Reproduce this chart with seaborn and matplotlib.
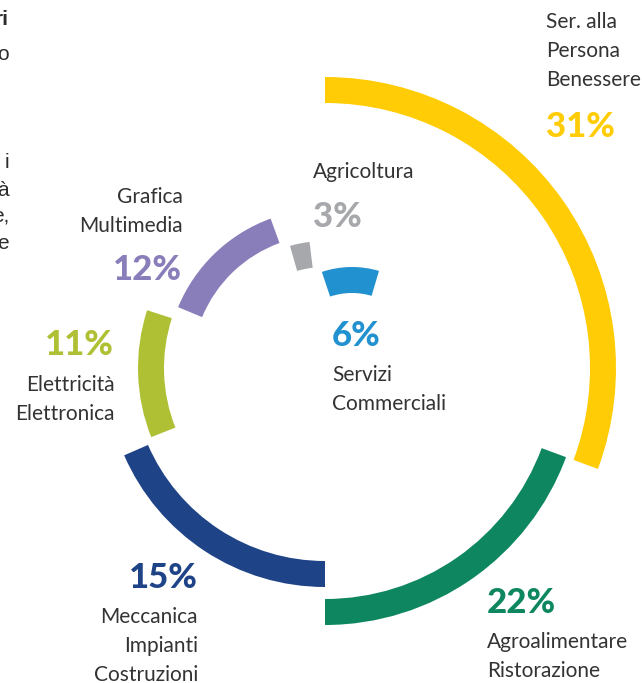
import numpy as np
import seaborn as sns
import matplotlib.pyplot as plt

# values
labels = ["Ser. alla\nPersona\nBenessere", "Agroalimentare\nRistorazione",
          "Meccanica\nImpianti\nCostruzioni", "Elettricità\nElettronica",
          "Grafica\nMultimedia", "Agricoltura", "Servizi\nCommerciali"]
shares = [31, 22, 15, 11, 12, 3, 6]
arc_deg = [110.3, 69.7, 66.5, 39.7, 47.5, 9.0, 35.0]  # angular length of each arc
colors = ["#FFCC05", "#0E8760", "#1E4387", "#B0C035", "#8A7EBA", "#A7A8AB", "#2191CF"]

# cut off line endings of the paragraph on the left edge
edge_words = ["ri", "o", "i", "à", "e,", "e"]
edge_bold = [True, False, False, False, False, False]


# layout (pixels, origin top left)
W, H = 643, 683
R = 300
ring_outer = [291, 257, 219, 187, 159, 127, 95]
ring_w = 26
gap_before = [0, 0, 0, 1.8, 4.5, 4.0]
center_main = (325, 368)
center_small = (352, 362)  # the light blue arc sits a bit off centre
small_mid = 91

# y = baseline of the last line of each name
name_pos = [(546, 86, "left"), (487, 677, "left"), (198, 681, "right"), (115, 420, "right"),
            (183, 232, "right"), (313, 178, "left"), (332, 410, "left")]
pct_pos = [(546, 137, "left"), (487, 613, "left"), (198, 588, "right"), (114, 355, "right"),
           (182, 280, "right"), (313, 227, "left"), (332, 346, "left")]
edge_base = [25, 60, 168, 196, 222, 249]

sns.set_theme(style="white")
plt.rcParams["font.family"] = ["Lato", "DejaVu Sans"]

fig = plt.figure(figsize=(W / 100, H / 100), dpi=100)
fig.patch.set_facecolor("white")


def polar_at(cx, cy):
	ax = fig.add_axes([(cx - R) / W, (H - cy - R) / H, 2 * R / W, 2 * R / H], projection="polar")
	ax.set_ylim(0, R)
	ax.set_axis_off()
	return ax


def put(x, y, s, **kw):
	return fig.text(x / W, 1 - y / H, s, **kw)


pal = sns.color_palette(colors)

ax = polar_at(*center_main)
start = 90.0
for i in range(6):
	start -= gap_before[i]
	end = start - arc_deg[i]
	ax.bar(np.deg2rad(end), ring_w, width=np.deg2rad(arc_deg[i]), bottom=ring_outer[i] - ring_w,
	       align="edge", color=pal[i], linewidth=0)
	start = end

ax2 = polar_at(*center_small)
ax2.bar(np.deg2rad(small_mid), ring_w, width=np.deg2rad(arc_deg[6]), bottom=ring_outer[6] - ring_w,
        align="center", color=pal[6], linewidth=0)

# category names and shares
for i in range(len(labels)):
	x, y, ha = name_pos[i]
	put(x, y, labels[i], ha=ha, va="baseline", fontsize=15, fontweight="normal",
	    color="#333333", linespacing=1.55, multialignment=ha)
	x, y, ha = pct_pos[i]
	put(x, y, str(shares[i]) + "%", ha=ha, va="baseline", fontsize=25, fontweight="black",
	    color=pal[i])

for w, y, b in zip(edge_words, edge_base, edge_bold):
	put(9, y, w, ha="right", va="baseline", fontsize=15, color="#2b2b2b",
	    fontweight="bold" if b else "normal", family=["Liberation Sans", "DejaVu Sans"])

fig.savefig("out.png", dpi=100)
